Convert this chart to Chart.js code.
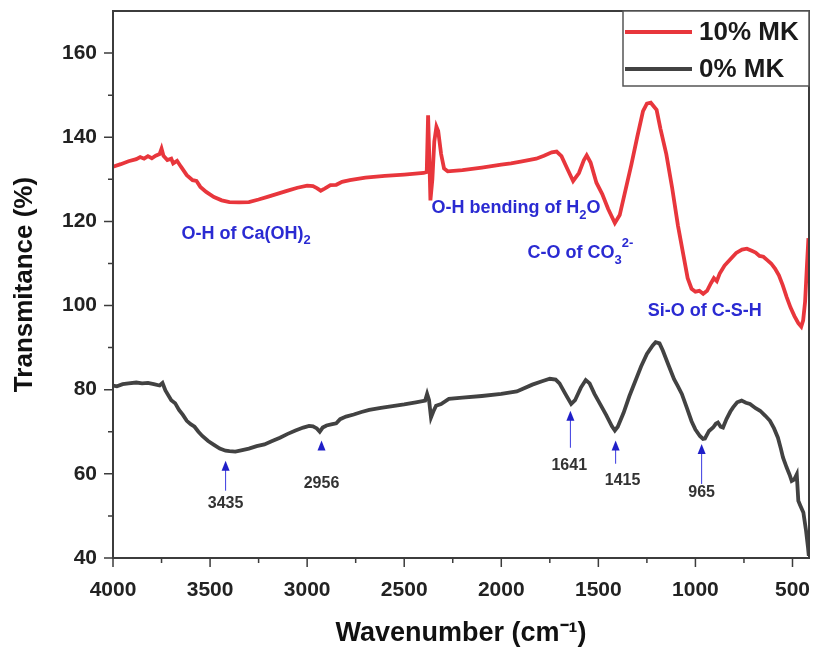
<!DOCTYPE html>
<html>
<head>
<meta charset="utf-8">
<script src="https://cdn.jsdelivr.net/npm/chart.js@4.4.1/dist/chart.umd.min.js"></script>
<style>
  html, body { margin: 0; padding: 0; background: #fff; }
  canvas { display: block; }
</style>
</head>
<body>
<canvas id="ftirChart" width="813" height="651"></canvas>
<script>
// 10% MK spectrum (wavenumber, transmittance)
const wn10 = [4000, 3960, 3920, 3880, 3860, 3840, 3820, 3800, 3780, 3760, 3750, 3740, 3720, 3700, 3690, 3670, 3650, 3620, 3590, 3570,
  3550, 3520, 3480, 3440, 3400, 3350, 3300, 3250, 3200, 3150, 3100, 3050, 3000, 2970, 2950, 2930, 2910, 2880, 2850, 2820,
  2780, 2700, 2600, 2500, 2400, 2384, 2377, 2370, 2365, 2355, 2345, 2334, 2325, 2310, 2295, 2276, 2200, 2100, 2000, 1950,
  1900, 1820, 1780, 1740, 1715, 1690, 1660, 1630, 1600, 1575, 1560, 1540, 1510, 1480, 1450, 1415, 1390, 1360, 1330, 1300,
  1270, 1250, 1230, 1200, 1180, 1150, 1120, 1090, 1060, 1040, 1020, 1000, 980, 960, 940, 920, 905, 890, 875, 850,
  820, 790, 760, 735, 710, 690, 670, 650, 630, 610, 590, 570, 550, 530, 510, 490, 470, 455, 445, 435,
  425, 418];
const t10 = [133.0, 133.6, 134.3, 134.8, 135.3, 134.9, 135.5, 135.0, 135.6, 136.0, 137.3, 135.6, 134.6, 134.9, 133.8, 134.4, 133.0, 131.0, 129.8, 129.6,
  128.2, 127.0, 125.8, 125.0, 124.6, 124.5, 124.6, 125.2, 125.9, 126.6, 127.3, 128.0, 128.5, 128.4, 127.9, 127.3, 127.8, 128.6, 128.7, 129.4,
  129.8, 130.4, 130.8, 131.1, 131.5, 131.7, 145.2, 134.0, 125.0, 130.0, 139.0, 142.5, 141.5, 136.0, 132.6, 131.9, 132.2, 132.8, 133.5, 133.8,
  134.2, 134.9, 135.6, 136.4, 136.6, 135.5, 132.5, 129.6, 131.5, 134.5, 135.7, 134.0, 129.2, 126.5, 123.0, 119.6, 121.5, 127.5, 133.5, 140.0,
  146.2, 148.0, 148.2, 146.5, 142.0, 136.0, 128.0, 119.0, 111.5, 106.5, 104.0, 103.3, 103.5, 102.8, 103.5, 105.3, 106.5, 105.8, 107.6, 109.5,
  111.0, 112.5, 113.3, 113.5, 113.0, 112.6, 111.8, 111.6, 110.8, 110.0, 108.8, 107.2, 104.8, 102.0, 99.5, 97.5, 95.8, 95.0, 96.5, 101.0,
  110.0, 116.0];

// 0% MK spectrum
const wn0 = [4000, 3980, 3950, 3920, 3880, 3850, 3820, 3790, 3760, 3745, 3730, 3700, 3680, 3660, 3640, 3620, 3600, 3580, 3560, 3540,
  3510, 3480, 3450, 3420, 3400, 3370, 3340, 3300, 3260, 3220, 3180, 3140, 3100, 3060, 3020, 2990, 2970, 2950, 2935, 2920,
  2900, 2870, 2850, 2830, 2800, 2760, 2720, 2680, 2620, 2560, 2500, 2440, 2392, 2382, 2372, 2362, 2350, 2336, 2310, 2270,
  2200, 2100, 2000, 1920, 1840, 1790, 1750, 1720, 1700, 1670, 1640, 1620, 1590, 1565, 1545, 1520, 1490, 1460, 1430, 1415,
  1400, 1370, 1340, 1310, 1280, 1250, 1220, 1205, 1185, 1168, 1140, 1110, 1090, 1070, 1045, 1020, 1000, 977, 961, 951,
  930, 909, 895, 884, 870, 858, 840, 820, 806, 785, 762, 740, 719, 690, 667, 640, 616, 595, 575, 560,
  549, 530, 515, 504, 492, 478, 470, 460, 444, 430, 420, 416];
const t0 = [81.0, 80.8, 81.3, 81.5, 81.7, 81.5, 81.6, 81.3, 81.0, 81.6, 79.8, 77.5, 76.8, 75.2, 74.0, 72.6, 71.8, 71.2, 70.0, 69.0,
  67.8, 66.9, 66.0, 65.5, 65.4, 65.3, 65.6, 66.0, 66.6, 67.0, 67.8, 68.6, 69.5, 70.3, 71.0, 71.4, 71.3, 70.8, 70.0, 71.0,
  71.5, 71.8, 72.0, 73.0, 73.6, 74.1, 74.7, 75.2, 75.7, 76.1, 76.5, 77.0, 77.4, 79.0, 77.5, 73.4, 74.8, 76.2, 76.6, 77.8,
  78.1, 78.5, 79.0, 79.6, 81.2, 82.0, 82.6, 82.4, 81.5, 79.0, 76.6, 77.5, 80.5, 82.3, 81.5, 79.0, 76.5, 74.0, 71.3, 70.3,
  71.2, 74.5, 78.5, 82.0, 85.5, 88.5, 90.5, 91.3, 91.0, 89.3, 86.0, 82.5, 80.8, 79.0, 75.8, 72.5, 70.5, 69.0, 68.3, 68.4,
  70.2, 71.0, 71.9, 72.2, 71.2, 71.0, 73.0, 74.8, 75.8, 77.0, 77.4, 76.9, 76.6, 75.6, 75.0, 73.8, 72.6, 70.8, 68.6, 66.0,
  63.9, 61.5, 59.8, 58.3, 58.6, 59.9, 53.6, 52.5, 50.8, 46.4, 42.4, 40.5];

const seriesNames = ['10% MK', '0% MK'];
const xTicks = [4000, 3500, 3000, 2500, 2000, 1500, 1000, 500];
const yTicks = [40, 60, 80, 100, 120, 140, 160];

// marked peaks on the 0% MK curve
const peakLabels = ['3435', '2956', '1641', '1415', '965'];
const peakX = [3420, 2926, 1644, 1411, 968];
const peakTip = [63.1, 67.9, 75.0, 67.9, 67.1];
const peakTail = [56.0, 66.0, 66.2, 62.4, 57.6];
const peakLabelX = [3420, 2926, 1650, 1375, 968];
const peakLabelY = [52.9, 57.6, 61.9, 58.3, 55.5];

// band assignments: [text, 0 normal / 1 sub / 2 sup]
const bandText = [
  [['O-H of Ca(OH)', 0], ['2', 1]],
  [['O-H bending of H', 0], ['2', 1], ['O', 0]],
  [['C-O of CO', 0], ['3', 1], ['2-', 2]],
  [['Si-O of C-S-H', 0]]
];
const bandX = [3647, 2360, 1865, 1246];
const bandY = [117.1, 123.1, 112.4, 98.8];

const FONT = '"Liberation Sans", Arial, Helvetica, sans-serif';

const extras = {
  id: 'extras',
  afterDatasetsDraw(chart) {
    const { ctx, chartArea: a, scales: { x, y } } = chart;
    ctx.save();
    ctx.strokeStyle = '#3c3c3c';
    ctx.lineWidth = 2;
    ctx.strokeRect(a.left, a.top, a.right - a.left, a.bottom - a.top);

    // major + minor ticks, pointing outward
    ctx.lineWidth = 1.5;
    ctx.beginPath();
    for (let v = 500; v <= 4000; v += 250) {
      const px = x.getPixelForValue(v);
      const len = v % 500 === 0 ? 9 : 5;
      ctx.moveTo(px, a.bottom);
      ctx.lineTo(px, a.bottom + len);
    }
    for (let v = 40; v < 170; v += 10) {
      const py = y.getPixelForValue(v);
      const len = v % 20 === 0 ? 9 : 5;
      ctx.moveTo(a.left, py);
      ctx.lineTo(a.left - len, py);
    }
    ctx.stroke();
    ctx.restore();
  },
  afterDraw(chart) {
    const { ctx, scales: { x, y } } = chart;
    ctx.save();

    // peak arrows
    peakLabels.forEach((lab, i) => {
      const px = x.getPixelForValue(peakX[i]);
      const tip = y.getPixelForValue(peakTip[i]);
      const tail = y.getPixelForValue(peakTail[i]);
      ctx.strokeStyle = '#3a3ae0';
      ctx.lineWidth = 1;
      ctx.beginPath();
      ctx.moveTo(px, tip + 6);
      ctx.lineTo(px, tail);
      ctx.stroke();
      ctx.fillStyle = '#1f1fc8';
      ctx.beginPath();
      ctx.moveTo(px, tip);
      ctx.lineTo(px - 4, tip + 10);
      ctx.lineTo(px + 4, tip + 10);
      ctx.closePath();
      ctx.fill();
      ctx.fillStyle = '#333';
      ctx.font = 'bold 16px ' + FONT;
      ctx.textAlign = 'center';
      ctx.textBaseline = 'middle';
      ctx.fillText(lab, x.getPixelForValue(peakLabelX[i]), y.getPixelForValue(peakLabelY[i]));
    });

    // band assignment labels
    ctx.fillStyle = '#2a2ad2';
    ctx.textAlign = 'left';
    ctx.textBaseline = 'middle';
    bandText.forEach((runs, i) => {
      let cx = x.getPixelForValue(bandX[i]);
      const cy = y.getPixelForValue(bandY[i]);
      runs.forEach(([txt, kind]) => {
        const s = kind ? 13 : 18;
        ctx.font = 'bold ' + s + 'px ' + FONT;
        const dy = kind === 1 ? 7 : kind === 2 ? -10 : 0;
        ctx.fillText(txt, cx, cy + dy);
        cx += ctx.measureText(txt).width;
      });
    });

    // legend box
    const lx = 623, ly = 11, lw = 186, lh = 75;
    ctx.fillStyle = '#fff';
    ctx.fillRect(lx, ly, lw, lh);
    ctx.strokeStyle = '#555';
    ctx.lineWidth = 1.5;
    ctx.strokeRect(lx, ly, lw, lh);
    chart.data.datasets.forEach((ds, i) => {
      const yy = ly + 21 + i * 37;
      ctx.strokeStyle = ds.borderColor;
      ctx.lineWidth = 4;
      ctx.beginPath();
      ctx.moveTo(lx + 2, yy);
      ctx.lineTo(lx + 69, yy);
      ctx.stroke();
      ctx.fillStyle = '#1a1a1a';
      ctx.font = 'bold 26px ' + FONT;
      ctx.textAlign = 'left';
      ctx.fillText(ds.label, lx + 76, yy + 1);
    });
    ctx.restore();
  }
};

new Chart(document.getElementById('ftirChart'), {
  type: 'line',
  data: {
    datasets: [
      {
        label: seriesNames[0],
        data: wn10.map((w, i) => ({ x: w, y: t10[i] })),
        borderColor: '#e8363c',
        borderWidth: 3.8,
        pointRadius: 0,
        tension: 0
      },
      {
        label: seriesNames[1],
        data: wn0.map((w, i) => ({ x: w, y: t0[i] })),
        borderColor: '#424242',
        borderWidth: 3.8,
        pointRadius: 0,
        tension: 0
      }
    ]
  },
  options: {
    responsive: false,
    animation: false,
    devicePixelRatio: 1,
    layout: { autoPadding: false, padding: { top: 11, right: 4, left: 0, bottom: 0 } },
    plugins: { legend: { display: false }, tooltip: { enabled: false } },
    scales: {
      x: {
        type: 'linear',
        reverse: true,
        min: 415,
        max: 4000,
        afterBuildTicks: s => { s.ticks = xTicks.map(v => ({ value: v })); },
        afterFit: s => { s.height = 93; s.paddingLeft = 0; s.paddingRight = 0; s.paddingTop = 0; s.paddingBottom = 0; },
        grid: { display: false, drawTicks: false },
        border: { display: false },
        ticks: {
          padding: 20, color: '#222', maxRotation: 0, autoSkip: false,
          font: { family: FONT, size: 21, weight: 'bold' },
          callback: v => String(v)
        },
        title: {
          display: true, text: 'Wavenumber (cm⁻¹)', color: '#111',
          font: { family: FONT, size: 27, weight: 'bold' },
          padding: { top: 0, bottom: 1 }
        }
      },
      y: {
        min: 40,
        max: 170,
        afterBuildTicks: s => { s.ticks = yTicks.map(v => ({ value: v })); },
        afterFit: s => { s.width = 113; s.paddingLeft = 0; s.paddingRight = 0; s.paddingTop = 0; s.paddingBottom = 0; },
        grid: { display: false, drawTicks: false },
        border: { display: false },
        ticks: {
          padding: 16, color: '#222',
          font: { family: FONT, size: 21, weight: 'bold' },
          callback: v => String(v)
        },
        title: {
          display: true, text: 'Transmitance (%)', color: '#111',
          font: { family: FONT, size: 26, weight: 'bold' },
          padding: { top: 9, bottom: 0 }
        }
      }
    }
  },
  plugins: [extras]
});
</script>
</body>
</html>
